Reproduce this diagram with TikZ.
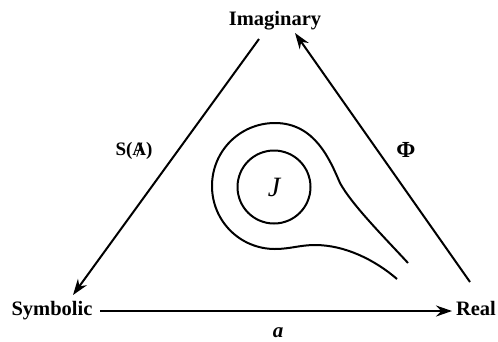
\documentclass[tikz,border=0pt]{standalone}
\usepackage{fontspec}
\setmainfont{Liberation Serif}
\usetikzlibrary{arrows.meta}
\begin{document}
\begin{tikzpicture}[x=1pt,y=-1pt,
  lbl/.style={font=\fontsize{20.5}{22}\selectfont\bfseries, anchor=base, inner sep=0pt},
  conn/.style={line width=2pt, -{Stealth[length=16pt,width=11pt]}},
  curve/.style={line width=2pt}]
\useasboundingbox (0,0) rectangle (498,341);
\fill[white] (0,0) rectangle (498,341);
% vertices
\node[lbl] (imag) at (275,25) {Imaginary};
\node[lbl] (symb) at (52,315) {Symbolic};
\node[lbl] (real) at (476,315) {Real};
% connector ends
\coordinate (sa1) at (259,39);
\coordinate (sa2) at (73,295);
\coordinate (ph1) at (470,282);
\coordinate (ph2) at (295,33);
\coordinate (a1) at (100,311);
\coordinate (a2) at (452,311);
\draw[conn] (sa1) -- (sa2);
\draw[conn] (ph1) -- (ph2);
\draw[conn] (a1) -- (a2);
% labels
\node[font=\fontsize{19}{21}\selectfont\bfseries, inner sep=0pt] (slbl) at (134,151)
  {S(\ooalign{A\cr\hidewidth\rotatebox{-20}{\rule[-1pt]{0.9pt}{15pt}}\hidewidth})};
\node[font=\fontsize{23}{25}\selectfont\bfseries, inner sep=0pt] (phi) at (406,150) {Φ};
\node[font=\fontsize{21}{23}\selectfont\bfseries\itshape, inner sep=0pt, anchor=base] (alb) at (278,337) {a};
% inner circle
\node[draw, circle, line width=2pt, minimum size=73pt, inner sep=0pt,
  font=\fontsize{28}{30}\selectfont\itshape] (J) at (274,187) {J};
% teardrop curve
\draw[curve] (408,263) .. controls (385,238) and (352,205) .. (340,183)
  .. controls (330,160) and (315,123) .. (275,123)
  .. controls (240,123) and (212,151) .. (212,186)
  .. controls (212,221) and (240,249) .. (275,249)
  .. controls (290,249) and (300,245) .. (315,245)
  .. controls (345,245) and (375,260) .. (397,279);
\end{tikzpicture}
\end{document}
